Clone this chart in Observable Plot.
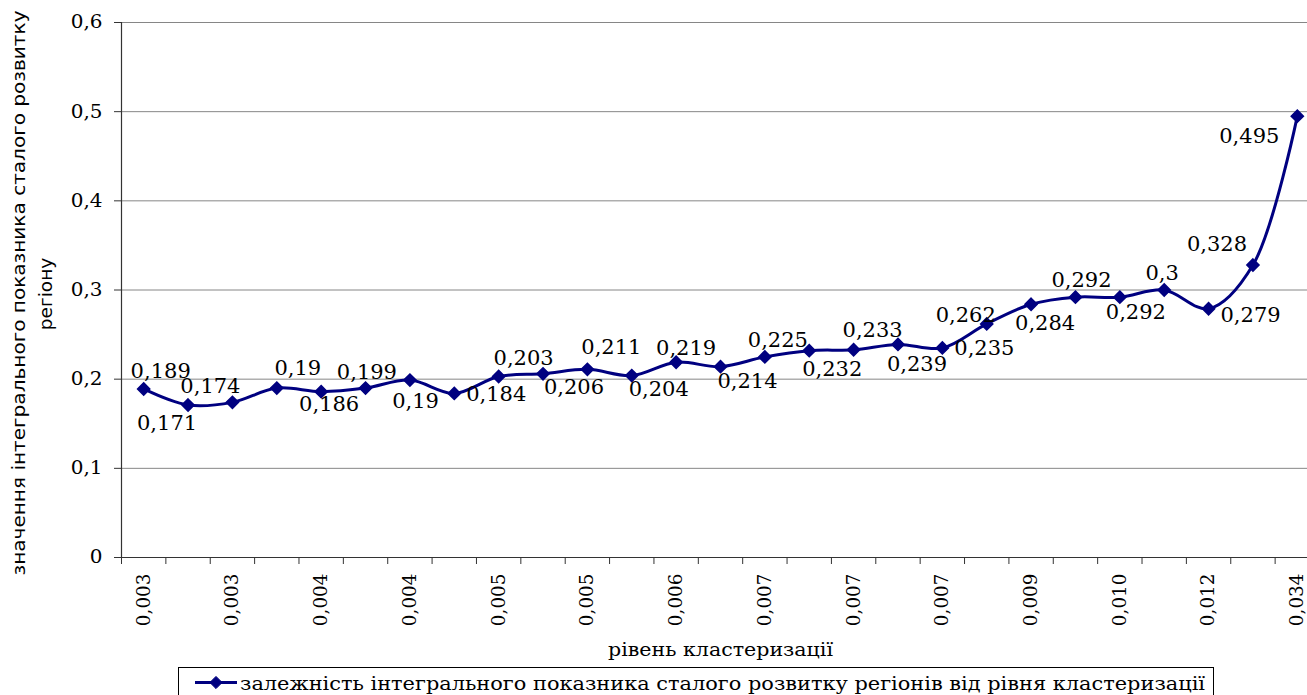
<!DOCTYPE html>
<html>
<head>
<meta charset="utf-8">
<script src="https://cdn.jsdelivr.net/npm/d3@7"></script>
<script src="https://cdn.jsdelivr.net/npm/@observablehq/plot@0.6"></script>
<style>
  html, body { margin: 0; padding: 0; background: #fff; }
  body { width: 1307px; height: 695px; overflow: hidden; }
  svg { display: block; }
</style>
</head>
<body>
<div id="chart"></div>
<script>
// ---- data ----
const values = [0.189, 0.171, 0.174, 0.19, 0.186, 0.19, 0.199, 0.184, 0.203, 0.206,
                0.211, 0.204, 0.219, 0.214, 0.225, 0.232, 0.233, 0.239, 0.235, 0.262,
                0.284, 0.292, 0.292, 0.3, 0.279, 0.328, 0.495];
const tickLabels = ["0,003", "0,003", "0,004", "0,004", "0,005", "0,005", "0,006",
                    "0,007", "0,007", "0,007", "0,009", "0,010", "0,012", "0,034"];
const yTicks = [0, 0.1, 0.2, 0.3, 0.4, 0.5, 0.6];
const yTitle = ["значення інтегрального показника сталого розвитку", "регіону"];
const xTitle = "рівень кластеризації";
const legendLabel = "залежність інтегрального показника сталого розвитку регіонів від рівня кластеризації";

// label offsets (styling, pixels)
const labelDx = [17, -21, -22, 21, 8, 50, -43, 42, 25, 31, 24, 27, 10, 27, 13, 23, 19, 19, 42, -21, 14, 6, 16, -2, 42, -36, -48];
const labelDy = [-18, 18, -16, -20, 13, 13, -8, 1, -18, 13, -22, 14, -14, 15, -17, 19, -19, 20, 0, -9, 19, -17, 15, -17, 7, -21, 20];

const fmt = v => String(v).replace(".", ",");
const navy = "#000080";
const serif = "DejaVu Serif";
const sansNarrow = "'Liberation Sans Narrow', 'DejaVu Sans Condensed', 'Liberation Sans', sans-serif";

const data = values.map((v, i) => ({i, v, label: fmt(v)}));
const boundaries = d3.range(28).map(k => k - 0.5);
const tickData = tickLabels.map((t, k) => ({i: k * 2, t}));

const plot = Plot.plot({
  width: 1307,
  height: 662,
  marginLeft: 121,
  marginRight: 0,
  marginTop: 22,
  marginBottom: 105,
  x: {domain: [-0.5, 26.5], range: [121, 1319], axis: null, label: null},
  y: {domain: [0, 0.6], axis: null, label: null},
  style: {background: "#fff", color: "#000", overflow: "visible"},
  marks: [
    Plot.ruleY(yTicks.filter(d => d > 0), {stroke: "#868686", strokeWidth: 1}),
    Plot.axisX({ticks: boundaries, tickSize: 7, tickFormat: () => "", stroke: "#333", label: null}),
    Plot.axisY({ticks: yTicks, tickSize: 7, tickFormat: () => "", stroke: "#333", label: null}),
    Plot.ruleY([0], {stroke: "#333", strokeWidth: 1.2}),
    Plot.ruleX([-0.5], {stroke: "#333", strokeWidth: 1.2}),
    Plot.line(data, {x: "i", y: "v", curve: "catmull-rom", stroke: navy, strokeWidth: 3}),
    Plot.dot(data, {x: "i", y: "v", symbol: "diamond2", r: 5.5, fill: navy, stroke: navy}),
    ...data.map((d, k) => Plot.text([d], {
      x: "i", y: "v", text: "label", dx: labelDx[k], dy: labelDy[k],
      fontSize: 21, fontFamily: serif, fill: "#000"
    })),
    Plot.text(tickData, {
      x: "i", text: "t", frameAnchor: "bottom", rotate: -90, textAnchor: "end", lineAnchor: "middle",
      dy: 16, fontSize: 18.4, fontFamily: serif, fill: "#000"
    }),
    Plot.text(yTicks, {
      y: d => d, text: d => fmt(d), frameAnchor: "left", textAnchor: "end",
      dx: -19, fontSize: 18.5, fontFamily: serif, fill: "#000"
    }),
    Plot.text([yTitle[0]], {
      text: d => d, frameAnchor: "left", rotate: -90, textAnchor: "middle", lineAnchor: "middle",
      dx: -102, dy: 3, fontSize: 18, fontFamily: sansNarrow, fill: "#000"
    }),
    Plot.text([yTitle[1]], {
      text: d => d, frameAnchor: "left", rotate: -90, textAnchor: "middle", lineAnchor: "middle",
      dx: -75, dy: 4, fontSize: 17.9, fontFamily: sansNarrow, fill: "#000"
    }),
    Plot.text([xTitle], {
      text: d => d, frameAnchor: "bottom", lineAnchor: "middle", dx: 6, dy: 93,
      fontSize: 18.1, fontFamily: serif, fill: "#000"
    })
  ]
});

document.getElementById("chart").append(plot);

function stretch(sel, f) {
  d3.select(plot).selectAll(sel).each(function() {
    const L = this.getComputedTextLength();
    this.setAttribute("textLength", L * f);
    this.setAttribute("lengthAdjust", "spacingAndGlyphs");
  });
}
function fixLen(sel, len) {
  d3.select(plot).selectAll(sel).each(function() {
    this.setAttribute("textLength", len);
    this.setAttribute("lengthAdjust", "spacingAndGlyphs");
  });
}
stretch('g[font-size="18.5"] text', 1.08);
fixLen('g[font-size="18"] text', 565);
stretch('g[font-size="17.9"] text', 1.15);
fixLen('g[font-size="18.1"] text', 225);

// ---- legend (below the chart) ----
const leg = d3.select("body").append("svg")
  .attr("width", 1307).attr("height", 33);
leg.append("rect")
  .attr("x", 178.5).attr("y", 5.5).attr("width", 1035).attr("height", 40)
  .attr("fill", "none").attr("stroke", "#000").attr("stroke-width", 1);
leg.append("line")
  .attr("x1", 195).attr("x2", 237).attr("y1", 20.5).attr("y2", 20.5)
  .attr("stroke", navy).attr("stroke-width", 3);
leg.append("path")
  .attr("transform", "translate(216,20.5)")
  .attr("d", d3.symbol(d3.symbolDiamond2, Math.PI * 5.5 * 5.5)())
  .attr("fill", navy).attr("stroke", navy);
leg.append("text")
  .attr("x", 240).attr("y", 27.5)
  .attr("font-size", 19)
  .attr("font-family", serif)
  .attr("textLength", 965).attr("lengthAdjust", "spacingAndGlyphs")
  .text(legendLabel);
</script>
</body>
</html>
